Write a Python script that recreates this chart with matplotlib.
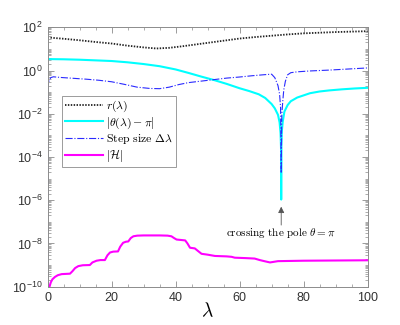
import numpy as np
import matplotlib
matplotlib.use('Agg')
import matplotlib.pyplot as plt
from matplotlib.ticker import LogLocator, MultipleLocator, LogFormatterSciNotation

plt.rcParams['mathtext.fontset'] = 'cm'
plt.rcParams['font.family'] = ['Liberation Sans', 'DejaVu Sans']

# r(lambda), log10 values
lam_r = [0, 5, 10, 15, 20, 25, 30, 34, 38, 42, 46, 50, 55, 60, 65, 70, 75, 80, 85, 90, 95, 100]
r_log = [1.53, 1.47, 1.40, 1.32, 1.25, 1.15, 1.07, 1.02, 1.05, 1.12, 1.20, 1.28, 1.38, 1.48,
         1.55, 1.61, 1.67, 1.72, 1.75, 1.78, 1.80, 1.82]

# |theta - pi|
lam_th = [0, 5, 10, 15, 20, 25, 30, 35, 40, 44, 48, 52, 56, 60, 63, 66, 68, 70, 71, 72,
          72.5, 72.8, 72.95, 73.0, 73.05, 73.2, 73.5, 74, 75, 76, 78, 80, 82, 85, 88, 92, 96, 100]
th_log = [0.53, 0.52, 0.50, 0.47, 0.44, 0.38, 0.30, 0.20, 0.05, -0.11, -0.28, -0.44, -0.62,
          -0.82, -0.95, -1.10, -1.27, -1.55, -1.75, -2.05, -2.40, -2.90, -3.60, -5.97, -3.60,
          -2.80, -2.35, -1.90, -1.60, -1.42, -1.25, -1.15, -1.05, -0.97, -0.92, -0.87, -0.83, -0.80]

# step size
lam_ds = [0, 0.15, 0.5, 1.0, 1.8, 4, 8, 12, 16, 20, 24, 28, 32, 35, 38, 41, 44, 48, 52, 56,
          60, 64, 68, 70, 71, 72, 72.5, 72.8, 73.0, 73.2, 73.5, 73.8, 74.3, 75, 76, 78, 82,
          88, 94, 100]
ds_log = [-12, -0.70, -0.45, -0.33, -0.29, -0.32, -0.36, -0.40, -0.45, -0.52, -0.64, -0.77,
          -0.83, -0.84, -0.77, -0.65, -0.56, -0.49, -0.42, -0.35, -0.30, -0.24, -0.19, -0.17,
          -0.33, -0.70, -1.10, -1.70, -4.75, -2.00, -1.40, -0.90, -0.50, -0.20, -0.10, -0.06,
          -0.02, 0.02, 0.07, 0.12]

# |H|
lam_h = [0.6, 1.0, 1.5, 2.3, 3.2, 4.4, 7.0, 7.8, 8.6, 9.6, 11, 13.2, 14, 15.3, 16.5, 17.9,
         18.7, 19.5, 20.5, 22, 22.7, 23.6, 24.5, 25.2, 26, 26.8, 28, 30, 35, 37.5, 38.7, 39.5,
         40.3, 43, 43.7, 44.5, 46, 47, 48.1, 50, 52.3, 56, 57.5, 58.5, 62, 64.7, 66.3, 68,
         69.5, 72, 80, 90, 100]
h_log = [-10.0, -9.80, -9.66, -9.55, -9.47, -9.42, -9.40, -9.28, -9.14, -9.05, -9.01, -9.00,
         -8.88, -8.80, -8.77, -8.77, -8.55, -8.42, -8.38, -8.37, -8.15, -7.97, -7.92, -7.91,
         -7.75, -7.67, -7.64, -7.63, -7.63, -7.64, -7.67, -7.75, -7.82, -7.86, -8.00, -8.20,
         -8.23, -8.35, -8.48, -8.52, -8.58, -8.60, -8.62, -8.66, -8.68, -8.70, -8.77, -8.83,
         -8.88, -8.82, -8.80, -8.79, -8.78]

fig = plt.figure(figsize=(4, 3.25), dpi=100)
ax = fig.add_axes([0.119, 0.118, 0.80, 0.798])

ax.semilogy(lam_r, 10.0**np.array(r_log), color='#222222', lw=1.3, ls=(0, (0.8, 0.8)),
            label=r'$r(\lambda)$')
ax.semilogy(lam_th, 10.0**np.array(th_log), '-', color='cyan', lw=1.5,
            label=r'$|\theta(\lambda)-\pi|$')
ax.semilogy(lam_ds, 10.0**np.array(ds_log), '-.', color='#2a2aff', lw=0.8,
            label=r'$\mathrm{Step\ size}\ \Delta\lambda$')
ax.semilogy(lam_h, 10.0**np.array(h_log), '-', color='magenta', lw=1.5, label=r'$|\mathcal{H}|$')

ax.set_xlim(0, 100)
ax.set_ylim(1e-10, 1e2)
ax.xaxis.set_major_locator(MultipleLocator(20))
ax.xaxis.set_minor_locator(MultipleLocator(5))
ax.yaxis.set_major_locator(LogLocator(base=100, numticks=20))
ax.yaxis.set_major_formatter(LogFormatterSciNotation(base=10))
ax.yaxis.set_minor_locator(LogLocator(base=10, subs=np.arange(1, 10), numticks=100))
ax.yaxis.set_minor_formatter(plt.NullFormatter())

for s in ax.spines.values():
    s.set_color('#8c8c8c')
    s.set_linewidth(0.7)
ax.tick_params(which='both', direction='in', top=True, right=True, colors='#8c8c8c',
               labelcolor='#333333', labelsize=9)
ax.tick_params(which='major', length=4, width=0.6)
ax.tick_params(which='minor', length=2, width=0.5)

ax.set_xlabel(r'$\lambda$', fontsize=14, labelpad=-1)

ax.annotate('', xy=(73, 10**-6.3), xytext=(73, 10**-7.15),
            arrowprops=dict(arrowstyle='-|>', color='#555555', lw=0.6,
                            mutation_scale=9, shrinkA=0, shrinkB=0))
ax.text(73, 10**-7.52, r'$\mathrm{crossing\ the\ pole}\ \theta=\pi$', ha='center',
        va='center', fontsize=8)

leg = ax.legend(loc='upper left', bbox_to_anchor=(0.045, 0.735), fontsize=8.5,
                handlelength=3.2, handletextpad=0.3, borderpad=0.25, labelspacing=0.1,
                fancybox=False, framealpha=1, borderaxespad=0)
leg.get_frame().set_edgecolor('#8c8c8c')
leg.get_frame().set_linewidth(0.6)

fig.savefig('out.png', dpi=100)
